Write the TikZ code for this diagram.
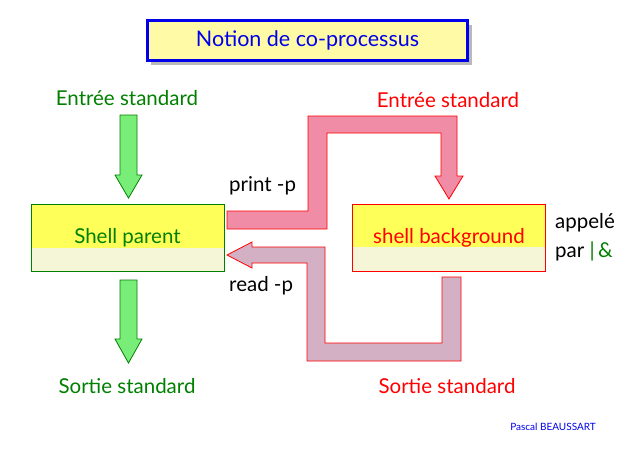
\documentclass[tikz,border=0pt]{standalone}
\usepackage{fontspec}
\setmainfont{Lato}
\usetikzlibrary{positioning}

\definecolor{vertfonce}{RGB}{0,128,0}
\definecolor{vertclair}{RGB}{120,238,120}
\definecolor{jaunefort}{RGB}{255,255,90}
\definecolor{jaunepale}{RGB}{245,245,215}
\definecolor{rosetube}{RGB}{240,140,165}
\definecolor{grisrose}{RGB}{212,176,196}
\definecolor{bleutitre}{RGB}{0,0,235}

\tikzset{
  lbl/.style={font=\fontsize{20.5}{24}\selectfont, inner sep=0pt},
  boite/.style={minimum width=193pt, minimum height=67pt, inner sep=0pt,
    path picture={
      \fill[jaunepale] (path picture bounding box.south west) rectangle (path picture bounding box.north east);
      \fill[jaunefort] ([yshift=24pt]path picture bounding box.south west) rectangle (path picture bounding box.north east);
    }},
  tube/.style={draw=red, line width=0.8pt, line join=miter}
}

\begin{document}
\begin{tikzpicture}[x=1pt,y=-1pt]
\useasboundingbox (0,0) rectangle (639,451);

% titre avec ombre
\fill[gray!55] (151,25) rectangle (472,65);
\node[draw=bleutitre, line width=2.5pt, fill=yellow!35, minimum width=320pt, minimum height=40pt,
      font=\fontsize{21.5}{24}\selectfont, text=bleutitre] (titre) at (307.5,40.5) {Notion de co-processus};

% les deux shells
\node[boite, draw=vertfonce, line width=0.8pt, lbl, text=vertfonce] (parent) at (127.5,238) {Shell parent};
\node[boite, draw=red, line width=0.8pt, lbl, text=red] (fond) at (449,237.5) {shell background};

% entrees / sorties
\node[lbl, text=vertfonce] (entreeP) at (127,98) {Entrée standard};
\node[lbl, text=vertfonce] (sortieP) at (127,386) {Sortie standard};
\node[lbl, text=red] (entreeF) at (448,100) {Entrée standard};
\node[lbl, text=red] (sortieF) at (447,386) {Sortie standard};

% fleches vertes
\draw[vertfonce, fill=vertclair, line width=0.8pt]
  (120,115) -- (137,115) -- (137,175) -- (142,175) -- (128.5,198) -- (115,175) -- (120,175) -- cycle;
\draw[vertfonce, fill=vertclair, line width=0.8pt]
  (120,280) -- (137,280) -- (137,339) -- (142,339) -- (128.5,363) -- (115,339) -- (120,339) -- cycle;

% tube print -p
\draw[tube, fill=rosetube]
  (227,211) -- (308,211) -- (308,116) -- (457,116) -- (457,176) -- (463,176) -- (449,199)
  -- (435,176) -- (441,176) -- (441,133) -- (327,133) -- (327,229) -- (227,229) -- cycle;
% tube read -p
\draw[tube, fill=grisrose]
  (461,277) -- (461,361) -- (307,361) -- (307,263) -- (252,263) -- (252,268) -- (227,255)
  -- (252,242) -- (252,247) -- (325,247) -- (325,343) -- (442,343) -- (442,277) -- cycle;

\node[lbl, anchor=west] (print) at (229,186) {print -p};
\node[lbl, anchor=west] (read) at (229,286) {read -p};

% appel en arriere-plan
\node[lbl, anchor=west] (appele) at (555,223) {appelé};
\node[lbl, anchor=west] (par) at (555,251) {par \textcolor{vertfonce}{\textbar}\,\textcolor{vertfonce}{\&}};

\node[font=\fontsize{10}{12}\selectfont, text=bleutitre, inner sep=0pt] (auteur) at (553,427) {Pascal BEAUSSART};
\end{tikzpicture}
\end{document}
